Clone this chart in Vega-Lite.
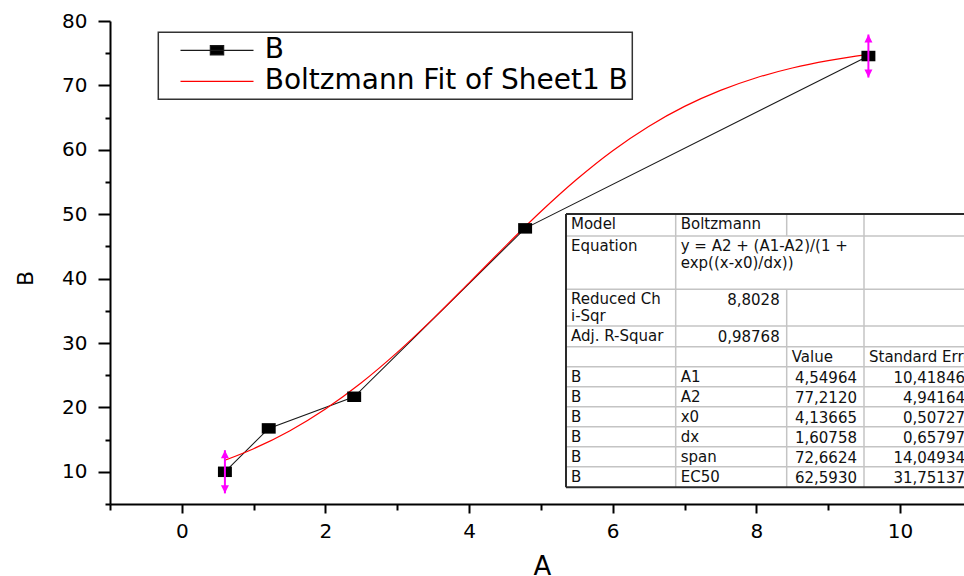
{
  "$schema": "https://vega.github.io/schema/vega-lite/v6.json",
  "width": 854,
  "height": 483,
  "autosize": {"type": "none"},
  "padding": {"left": 110, "top": 21, "right": 0, "bottom": 72},
  "background": "white",
  "config": {
    "font": "DejaVu Sans",
    "view": {"stroke": null},
    "axis": {
      "grid": false,
      "domainColor": "black",
      "domainWidth": 2,
      "tickColor": "black",
      "tickWidth": 2,
      "labelFont": "DejaVu Sans",
      "labelFontSize": 20,
      "labelColor": "black",
      "labelOverlap": false,
      "labelFlush": false,
      "titleFont": "DejaVu Sans",
      "titleFontWeight": "normal",
      "titleColor": "black"
    }
  },
  "datasets": {
    "points": [
      {"x": 0.6, "y": 10.0, "series": "B"},
      {"x": 1.21, "y": 16.74, "series": "B"},
      {"x": 2.4, "y": 21.65, "series": "B"},
      {"x": 4.78, "y": 47.8, "series": "B"},
      {"x": 9.56, "y": 74.56, "series": "B"}
    ],
    "errs": [
      {"x": 0.6, "y": 10.0, "lo": 6.65, "hi": 13.35},
      {"x": 9.56, "y": 74.56, "lo": 71.22, "hi": 77.9}
    ],
    "fit": [
      {"x": 0.6, "y": 11.8, "series": "Boltzmann Fit of Sheet1 B"},
      {"x": 1.0, "y": 13.59, "series": "Boltzmann Fit of Sheet1 B"},
      {"x": 1.5, "y": 16.35, "series": "Boltzmann Fit of Sheet1 B"},
      {"x": 2.0, "y": 19.76, "series": "Boltzmann Fit of Sheet1 B"},
      {"x": 2.5, "y": 23.83, "series": "Boltzmann Fit of Sheet1 B"},
      {"x": 3.0, "y": 28.54, "series": "Boltzmann Fit of Sheet1 B"},
      {"x": 3.5, "y": 33.78, "series": "Boltzmann Fit of Sheet1 B"},
      {"x": 4.0, "y": 39.34, "series": "Boltzmann Fit of Sheet1 B"},
      {"x": 4.5, "y": 44.97, "series": "Boltzmann Fit of Sheet1 B"},
      {"x": 5.0, "y": 50.41, "series": "Boltzmann Fit of Sheet1 B"},
      {"x": 5.5, "y": 55.42, "series": "Boltzmann Fit of Sheet1 B"},
      {"x": 6.0, "y": 59.86, "series": "Boltzmann Fit of Sheet1 B"},
      {"x": 6.5, "y": 63.63, "series": "Boltzmann Fit of Sheet1 B"},
      {"x": 7.0, "y": 66.74, "series": "Boltzmann Fit of Sheet1 B"},
      {"x": 7.5, "y": 69.23, "series": "Boltzmann Fit of Sheet1 B"},
      {"x": 8.0, "y": 71.19, "series": "Boltzmann Fit of Sheet1 B"},
      {"x": 8.5, "y": 72.7, "series": "Boltzmann Fit of Sheet1 B"},
      {"x": 9.0, "y": 73.85, "series": "Boltzmann Fit of Sheet1 B"},
      {"x": 9.56, "y": 74.81, "series": "Boltzmann Fit of Sheet1 B"}
    ],
    "cells": [
      {"r": 0, "c": 0, "ce": 1, "k": "txt", "t": "Model"},
      {"r": 0, "c": 1, "ce": 2, "k": "txt", "t": "Boltzmann"},
      {"r": 1, "c": 0, "ce": 1, "k": "txt", "t": "Equation"},
      {"r": 1, "c": 1, "ce": 3, "k": "txt", "t": "y = A2 + (A1-A2)/(1 +\nexp((x-x0)/dx))"},
      {"r": 2, "c": 0, "ce": 1, "k": "txt", "t": "Reduced Ch\ni-Sqr"},
      {"r": 2, "c": 1, "ce": 2, "k": "num", "t": "8,8028"},
      {"r": 3, "c": 0, "ce": 1, "k": "txt", "t": "Adj. R-Squar"},
      {"r": 3, "c": 1, "ce": 2, "k": "num", "t": "0,98768"},
      {"r": 4, "c": 2, "ce": 3, "k": "txt", "t": "Value"},
      {"r": 4, "c": 3, "ce": 4, "k": "txt", "t": "Standard Error"},
      {"r": 5, "c": 0, "ce": 1, "k": "txt", "t": "B"},
      {"r": 5, "c": 1, "ce": 2, "k": "txt", "t": "A1"},
      {"r": 5, "c": 2, "ce": 3, "k": "num", "t": "4,54964"},
      {"r": 5, "c": 3, "ce": 4, "k": "num", "t": "10,41846"},
      {"r": 6, "c": 0, "ce": 1, "k": "txt", "t": "B"},
      {"r": 6, "c": 1, "ce": 2, "k": "txt", "t": "A2"},
      {"r": 6, "c": 2, "ce": 3, "k": "num", "t": "77,2120"},
      {"r": 6, "c": 3, "ce": 4, "k": "num", "t": "4,94164"},
      {"r": 7, "c": 0, "ce": 1, "k": "txt", "t": "B"},
      {"r": 7, "c": 1, "ce": 2, "k": "txt", "t": "x0"},
      {"r": 7, "c": 2, "ce": 3, "k": "num", "t": "4,13665"},
      {"r": 7, "c": 3, "ce": 4, "k": "num", "t": "0,50727"},
      {"r": 8, "c": 0, "ce": 1, "k": "txt", "t": "B"},
      {"r": 8, "c": 1, "ce": 2, "k": "txt", "t": "dx"},
      {"r": 8, "c": 2, "ce": 3, "k": "num", "t": "1,60758"},
      {"r": 8, "c": 3, "ce": 4, "k": "num", "t": "0,65797"},
      {"r": 9, "c": 0, "ce": 1, "k": "txt", "t": "B"},
      {"r": 9, "c": 1, "ce": 2, "k": "txt", "t": "span"},
      {"r": 9, "c": 2, "ce": 3, "k": "num", "t": "72,6624"},
      {"r": 9, "c": 3, "ce": 4, "k": "num", "t": "14,04934"},
      {"r": 10, "c": 0, "ce": 1, "k": "txt", "t": "B"},
      {"r": 10, "c": 1, "ce": 2, "k": "txt", "t": "EC50"},
      {"r": 10, "c": 2, "ce": 3, "k": "num", "t": "62,5930"},
      {"r": 10, "c": 3, "ce": 4, "k": "num", "t": "31,75137"}
    ],
    "hlines": [
      {"r": 0, "c0": 0, "c1": 4},
      {"r": 1, "c0": 0, "c1": 4},
      {"r": 2, "c0": 0, "c1": 4},
      {"r": 3, "c0": 0, "c1": 4},
      {"r": 4, "c0": 0, "c1": 4},
      {"r": 5, "c0": 0, "c1": 4},
      {"r": 6, "c0": 0, "c1": 4},
      {"r": 7, "c0": 0, "c1": 4},
      {"r": 8, "c0": 0, "c1": 4},
      {"r": 9, "c0": 0, "c1": 4},
      {"r": 10, "c0": 0, "c1": 4},
      {"r": 11, "c0": 0, "c1": 4}
    ],
    "vlines": [
      {"c": 0, "r0": 0, "r1": 11},
      {"c": 1, "r0": 0, "r1": 11},
      {"c": 2, "r0": 0, "r1": 1},
      {"c": 2, "r0": 2, "r1": 11},
      {"c": 3, "r0": 0, "r1": 11},
      {"c": 4, "r0": 0, "r1": 11}
    ]
  },
  "resolve": {"scale": {"x": "independent", "y": "independent"}},
  "layer": [
    {
      "resolve": {"axis": {"y": "independent"}},
      "layer": [
        {
          "data": {"name": "points"},
          "mark": {"type": "line", "strokeWidth": 1.1},
          "encoding": {
            "x": {"field": "x", "type": "quantitative",
              "scale": {"domain": [-1, 10.891], "nice": false, "zero": false},
              "axis": {
                "values": [-1, 0, 1, 2, 3, 4, 5, 6, 7, 8, 9, 10],
                "format": "d",
                "labelExpr": "datum.value % 2 === 0 ? datum.label : ''",
                "tickSize": {"condition": {"test": "datum.value % 2 !== 0", "value": 6}, "value": 9},
                "labelPadding": 8,
                "title": "A",
                "titleFontSize": 26,
                "titleX": 432,
                "titleY": 49.6,
                "titleBaseline": "top",
                "titleAlign": "center"
              }},
            "y": {"field": "y", "type": "quantitative",
              "scale": {"domain": [5, 80], "nice": false, "zero": false},
              "axis": {
                "orient": "left",
                "values": [10, 20, 30, 40, 50, 60, 70, 80],
                "format": "d",
                "tickSize": 12,
                "labelPadding": 11,
                "labelBaseline": "middle",
                "title": "B",
                "titleFontSize": 22,
                "titleX": -85,
                "titleY": 257,
                "titleAngle": -90,
                "titleBaseline": "middle",
                "titleAlign": "center"
              }},
            "color": {"field": "series", "type": "nominal",
              "scale": {"domain": ["B", "Boltzmann Fit of Sheet1 B"], "range": ["#1a1a1a", "#ff0000"]},
              "legend": {
                "orient": "none",
                "legendX": 48.3,
                "legendY": 11.3,
                "title": null,
                "padding": 4,
                "strokeColor": "#333333",
                "labelFont": "DejaVu Sans",
                "labelFontSize": 28,
                "labelColor": "black",
                "labelLimit": 0,
                "symbolSize": 100,
                "symbolStrokeWidth": 1.2,
                "symbolOffset": 40.7,
                "labelOffset": 33.7,
                "rowPadding": 3,
                "encode": {
                  "legend": {"update": {"strokeWidth": {"value": 1.5}}},
                  "symbols": {"update": {
                    "shape": {"signal": "datum.value === 'B' ? 'M-7.3,0H7.3M-1.33,-0.93H1.33V0.93H-1.33Z' : 'M-7.3,0H7.3'"},
                    "fill": {"signal": "datum.value === 'B' ? '#000000' : 'transparent'"},
                    "stroke": {"signal": "datum.value === 'B' ? '#444444' : '#ff3333'"},
                    "strokeWidth": {"value": 1.2},
                    "opacity": {"value": 1}
                  }}
                }
              }}
          }
        },
        {
          "data": {"name": "fit"},
          "mark": {"type": "line", "strokeWidth": 1.2, "interpolate": "monotone"},
          "encoding": {
            "x": {"field": "x", "type": "quantitative"},
            "y": {"field": "y", "type": "quantitative", "axis": null},
            "color": {"field": "series", "type": "nominal"}
          }
        },
        {
          "data": {"name": "points"},
          "mark": {"type": "point", "filled": true, "shape": "M-1.33,-1H1.33V1H-1.33Z", "size": 110, "color": "#000000", "opacity": 1},
          "encoding": {
            "x": {"field": "x", "type": "quantitative"},
            "y": {"field": "y", "type": "quantitative",
              "axis": {
                "orient": "left",
                "values": [5, 15, 25, 35, 45, 55, 65, 75],
                "tickSize": 5,
                "labels": false,
                "domain": false,
                "title": null
              }}
          }
        },
        {
          "data": {"name": "errs"},
          "mark": {"type": "rule", "color": "#ff00ff", "strokeWidth": 2},
          "encoding": {
            "x": {"field": "x", "type": "quantitative"},
            "y": {"field": "lo", "type": "quantitative", "axis": null},
            "y2": {"field": "hi"}
          }
        },
        {
          "data": {"name": "errs"},
          "mark": {"type": "point", "filled": true, "shape": "M0,0L1,2L-1,2Z", "size": 64, "color": "#ff00ff", "opacity": 1},
          "encoding": {
            "x": {"field": "x", "type": "quantitative"},
            "y": {"field": "hi", "type": "quantitative", "axis": null}
          }
        },
        {
          "data": {"name": "errs"},
          "mark": {"type": "point", "filled": true, "shape": "M0,0L1,-2L-1,-2Z", "size": 64, "color": "#ff00ff", "opacity": 1},
          "encoding": {
            "x": {"field": "x", "type": "quantitative"},
            "y": {"field": "lo", "type": "quantitative", "axis": null}
          }
        }
      ]
    },
    {
      "layer": [
        {
          "data": {"name": "hlines"},
          "transform": [{"filter": "datum.r > 0 && datum.r < 11"}],
          "mark": {"type": "rule", "color": "#c4c4c4", "strokeWidth": 1.5},
          "encoding": {
            "x": {"field": "c0", "type": "quantitative", "axis": null,
              "scale": {"domain": [0, 1, 2, 3, 4], "range": [456, 565.7, 676.7, 754, 862], "nice": false, "zero": false}},
            "x2": {"field": "c1"},
            "y": {"field": "r", "type": "quantitative", "axis": null,
              "scale": {"domain": [0, 1, 2, 3, 4, 5, 6, 7, 8, 9, 10, 11], "range": [193, 215, 268.3, 305, 325.7, 345.7, 365.7, 385.7, 405.7, 425.7, 445.7, 466.3], "nice": false, "zero": false}}
          }
        },
        {
          "data": {"name": "vlines"},
          "transform": [{"filter": "datum.c > 0"}],
          "mark": {"type": "rule", "color": "#c4c4c4", "strokeWidth": 1.5},
          "encoding": {
            "x": {"field": "c", "type": "quantitative"},
            "y": {"field": "r0", "type": "quantitative"},
            "y2": {"field": "r1"}
          }
        },
        {
          "data": {"name": "hlines"},
          "transform": [{"filter": "datum.r === 0 || datum.r === 11"}],
          "mark": {"type": "rule", "color": "#2a2a2a", "strokeWidth": 2},
          "encoding": {
            "x": {"field": "c0", "type": "quantitative"},
            "x2": {"field": "c1"},
            "y": {"field": "r", "type": "quantitative"}
          }
        },
        {
          "data": {"name": "vlines"},
          "transform": [{"filter": "datum.c === 0"}],
          "mark": {"type": "rule", "color": "#2a2a2a", "strokeWidth": 2},
          "encoding": {
            "x": {"field": "c", "type": "quantitative"},
            "y": {"field": "r0", "type": "quantitative"},
            "y2": {"field": "r1"}
          }
        },
        {
          "data": {"name": "cells"},
          "transform": [{"filter": "datum.k === 'txt'"}],
          "mark": {"type": "text", "align": "left", "baseline": "top", "dx": 5, "dy": 3, "fontSize": 15, "font": "DejaVu Sans", "color": "#111111", "lineBreak": "\n", "lineHeight": 16.5},
          "encoding": {
            "x": {"field": "c", "type": "quantitative"},
            "y": {"field": "r", "type": "quantitative"},
            "text": {"field": "t", "type": "nominal"}
          }
        },
        {
          "data": {"name": "cells"},
          "transform": [{"filter": "datum.k === 'num'"}],
          "mark": {"type": "text", "align": "right", "baseline": "top", "dx": -7, "dy": 4, "fontSize": 15, "font": "DejaVu Sans", "color": "#111111"},
          "encoding": {
            "x": {"field": "ce", "type": "quantitative"},
            "y": {"field": "r", "type": "quantitative"},
            "text": {"field": "t", "type": "nominal"}
          }
        }
      ]
    }
  ]
}
